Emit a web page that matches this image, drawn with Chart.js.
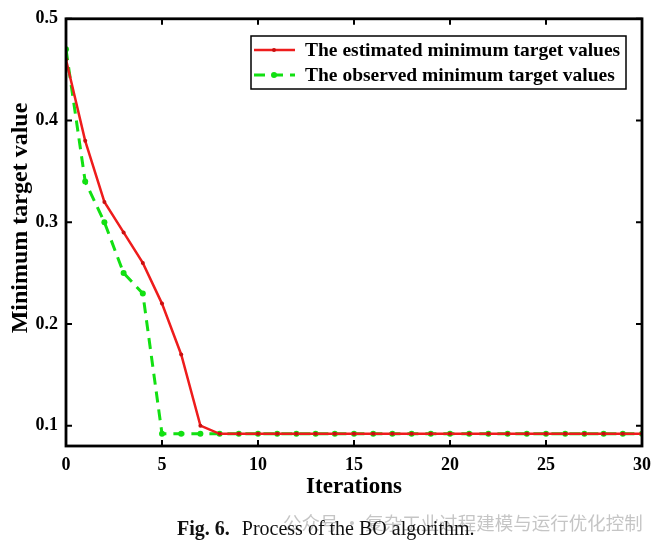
<!DOCTYPE html>
<html>
<head>
<meta charset="utf-8">
<script src="https://cdn.jsdelivr.net/npm/chart.js@4.4.0/dist/chart.umd.min.js"></script>
<style>
  body { margin: 0; background: #fff; }
  #wrap { position: relative; width: 662px; height: 551px; }
  #caption {
    position: absolute; left: 177px; top: 517px;
    font-family: "Liberation Serif", serif; font-size: 20px; color: #111;
    white-space: nowrap;
  }
  #caption b { margin-right: 7px; }
  #mark {
    position: absolute; left: 283px; top: 509px;
    font-family: "Noto Sans CJK SC", sans-serif; font-size: 18.5px;
    color: rgba(150,150,150,0.55); white-space: nowrap;
  }
</style>
</head>
<body>
<div id="wrap">
  <canvas id="boChart" width="662" height="551"></canvas>
  <div id="mark">公众号 · 复杂工业过程建模与运行优化控制</div>
  <div id="caption"><b>Fig. 6.</b> Process of the BO algorithm.</div>
</div>
<script>
// ---------------- Data ----------------
const iterations = [0, 1, 2, 3, 4, 5, 6, 7, 8, 9, 10, 11, 12, 13, 14, 15, 16, 17, 18, 19, 20,
                    21, 22, 23, 24, 25, 26, 27, 28, 29, 30];
const estimated = [0.46, 0.38, 0.32, 0.29, 0.26, 0.22, 0.17, 0.10, 0.092, 0.092, 0.092,
                   0.092, 0.092, 0.092, 0.092, 0.092, 0.092, 0.092, 0.092, 0.092, 0.092,
                   0.092, 0.092, 0.092, 0.092, 0.092, 0.092, 0.092, 0.092, 0.092, 0.092];
const observed = [0.47, 0.34, 0.30, 0.25, 0.23, 0.092, 0.092, 0.092, 0.092, 0.092, 0.092,
                  0.092, 0.092, 0.092, 0.092, 0.092, 0.092, 0.092, 0.092, 0.092, 0.092,
                  0.092, 0.092, 0.092, 0.092, 0.092, 0.092, 0.092, 0.092, 0.092, 0.092];
const xTicks = [0, 5, 10, 15, 20, 25, 30];
const yTicks = [0.1, 0.2, 0.3, 0.4, 0.5];
const yTitle = 'Minimum target value';

const serif = "'Liberation Serif', 'Times New Roman', serif";
const RED = '#ee1c1c';
const GREEN = '#12e012';

function toPoints(ys) {
    return iterations.map((x, i) => ({ x: x, y: ys[i] }));
}

// ---------------- Frame, inward ticks, legend, y title ----------------
const framePlugin = {
    id: 'frame',
    afterDraw(chart) {
        const { ctx, chartArea: a, scales } = chart;
        const len = 6;
        ctx.save();
        ctx.strokeStyle = '#000';
        ctx.lineWidth = 2.8;
        ctx.strokeRect(a.left, a.top, a.right - a.left, a.bottom - a.top);

        ctx.lineWidth = 2;
        ctx.beginPath();
        xTicks.forEach(v => {
            const px = scales.x.getPixelForValue(v);
            ctx.moveTo(px, a.bottom); ctx.lineTo(px, a.bottom - len);
            ctx.moveTo(px, a.top); ctx.lineTo(px, a.top + len);
        });
        yTicks.forEach(v => {
            const py = scales.y.getPixelForValue(v);
            ctx.moveTo(a.left, py); ctx.lineTo(a.left + len, py);
            ctx.moveTo(a.right, py); ctx.lineTo(a.right - len, py);
        });
        ctx.stroke();

        // y title, sits a little above the middle like the original
        ctx.save();
        ctx.translate(21, 218);
        ctx.rotate(-Math.PI / 2);
        ctx.fillStyle = '#000';
        ctx.font = 'bold 24px ' + serif;
        ctx.textAlign = 'center';
        ctx.textBaseline = 'middle';
        ctx.fillText(yTitle, 0, 0);
        ctx.restore();

        // legend box
        const bx = 251, by = 36, bw = 375, bh = 53;
        ctx.fillStyle = '#fff';
        ctx.fillRect(bx, by, bw, bh);
        ctx.lineWidth = 1.5;
        ctx.strokeRect(bx, by, bw, bh);
        chart.data.datasets.forEach((ds, i) => {
            const ry = by + 14 + i * 25;
            ctx.strokeStyle = ds.borderColor;
            ctx.lineWidth = ds.borderWidth;
            ctx.setLineDash(ds.borderDash || []);
            ctx.beginPath();
            ctx.moveTo(bx + 3, ry); ctx.lineTo(bx + 44, ry);
            ctx.stroke();
            ctx.setLineDash([]);
            ctx.fillStyle = ds.pointBackgroundColor;
            ctx.beginPath();
            ctx.arc(bx + 23, ry, ds.pointRadius, 0, Math.PI * 2);
            ctx.fill();
            ctx.fillStyle = '#000';
            ctx.font = 'bold 19.5px ' + serif;
            ctx.textBaseline = 'middle';
            ctx.textAlign = 'left';
            ctx.fillText(ds.label, bx + 54, ry + 1);
        });
        ctx.restore();
    }
};

// ---------------- Chart ----------------
new Chart(document.getElementById('boChart'), {
    type: 'line',
    data: {
        datasets: [{
            label: 'The estimated minimum target values',
            data: toPoints(estimated),
            borderColor: RED,
            borderWidth: 2.5,
            pointRadius: 2,
            pointBackgroundColor: '#c81010',
            pointBorderWidth: 0,
            tension: 0
        }, {
            label: 'The observed minimum target values',
            data: toPoints(observed),
            borderColor: GREEN,
            borderWidth: 3,
            borderDash: [11, 7],
            pointRadius: 3,
            pointBackgroundColor: GREEN,
            pointBorderWidth: 0,
            tension: 0
        }]
    },
    options: {
        responsive: false,
        animation: false,
        layout: { padding: { left: 0, top: 15, right: 20, bottom: 50 } },
        plugins: { legend: { display: false }, tooltip: { enabled: false } },
        scales: {
            x: {
                type: 'linear', min: 0, max: 30,
                afterBuildTicks: s => { s.ticks = xTicks.map(v => ({ value: v })); },
                afterFit: s => { s.height = 55; },
                grid: { display: false, drawTicks: false },
                border: { display: false },
                ticks: { padding: 9, color: '#000', font: { family: serif, size: 18, weight: 'bold' } },
                title: {
                    display: true, text: 'Iterations', color: '#000',
                    padding: 0, font: { family: serif, size: 23, weight: 'bold' }
                }
            },
            y: {
                type: 'linear', min: 0.08, max: 0.5,
                afterBuildTicks: s => { s.ticks = yTicks.map(v => ({ value: v })); },
                afterFit: s => { s.width = 66; },
                grid: { display: false, drawTicks: false },
                border: { display: false },
                ticks: {
                    padding: 8, color: '#000',
                    font: { family: serif, size: 18, weight: 'bold' },
                    callback: v => v.toFixed(1)
                }
            }
        }
    },
    plugins: [framePlugin]
});
</script>
</body>
</html>
